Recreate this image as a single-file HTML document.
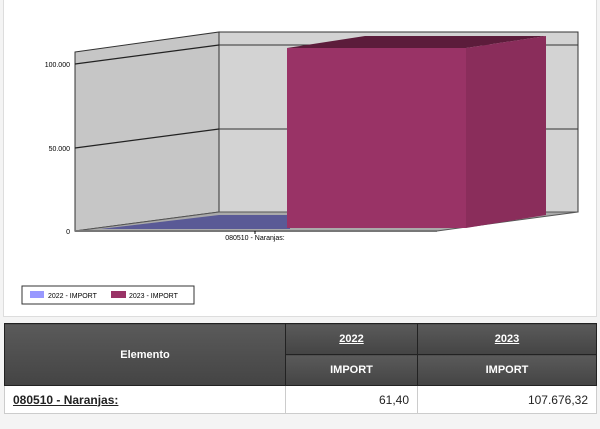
<!DOCTYPE html>
<html><head><style>
body{margin:0;width:600px;height:429px;background:#f4f4f4;font-family:"Liberation Sans",sans-serif;overflow:hidden;position:relative}
.panel{position:absolute;left:3px;top:-2px;width:592px;height:317px;background:#fff;border:1px solid #ddd}
table{position:absolute;left:4px;top:323px;width:593px;border-collapse:collapse;font-size:11px;table-layout:fixed}
th{background:linear-gradient(#5a5a5a,#444);color:#fff;font-weight:bold;border:1px solid #222;height:28px}
td{background:#fff;border:1px solid #ccc;height:27px;font-size:12px;color:#222;padding:0 8px}
</style></head><body>
<div class="panel"></div>
<svg style="position:absolute;left:0;top:0" width="600" height="320">
<polygon points="219,32 578,32 578,212 219,212" fill="#d3d3d3" stroke="#333" stroke-width="1"/>
<polygon points="75,52 219,32 219,212 75,231" fill="#c6c6c6" stroke="#333" stroke-width="1"/>
<polygon points="75,231 219,212 578,212 437,231" fill="#aaa" stroke="#555" stroke-width="1"/>
<line x1="75" y1="231" x2="437" y2="231" stroke="#777" stroke-width="2"/>
<line x1="75" y1="64" x2="219" y2="45" stroke="#222" stroke-width="1.2"/>
<line x1="219" y1="45" x2="578" y2="45" stroke="#333"/>
<line x1="75" y1="148" x2="219" y2="129" stroke="#222" stroke-width="1.2"/>
<line x1="219" y1="129" x2="578" y2="129" stroke="#333"/>
<polygon points="100,229 219,215 290,215 290,229" fill="#5a5a96"/>
<polygon points="287,48 365,36 546,36 466,48" fill="#5c1c3b"/>
<polygon points="466,48 546,36 546,215 466,228" fill="#8a2d5b"/>
<rect x="287" y="48" width="179" height="180" fill="#993366"/>
<g font-size="7" fill="#000" text-anchor="end">
<text x="70" y="67">100.000</text><text x="70" y="151">50.000</text><text x="70" y="234">0</text>
</g>
<line x1="255" y1="231" x2="255" y2="234" stroke="#000"/>
<text x="255" y="240" font-size="7" text-anchor="middle">080510 - Naranjas:</text>
<rect x="22" y="286" width="172" height="18" fill="#fff" stroke="#333"/>
<rect x="30" y="291" width="14" height="7" fill="#9999ff"/>
<text x="48" y="298" font-size="7">2022 - IMPORT</text>
<rect x="111" y="291" width="15" height="7" fill="#993366"/>
<text x="129" y="298" font-size="7">2023 - IMPORT</text>
</svg>
<table>
<colgroup><col style="width:281px"><col style="width:132px"><col></colgroup>
<tr><th rowspan="2">Elemento</th><th style="text-decoration:underline">2022</th><th style="text-decoration:underline">2023</th></tr>
<tr><th>IMPORT</th><th>IMPORT</th></tr>
<tr><td style="font-weight:bold;text-decoration:underline">080510 - Naranjas:</td><td style="text-align:right">61,40</td><td style="text-align:right">107.676,32</td></tr>
</table>
</body></html>
